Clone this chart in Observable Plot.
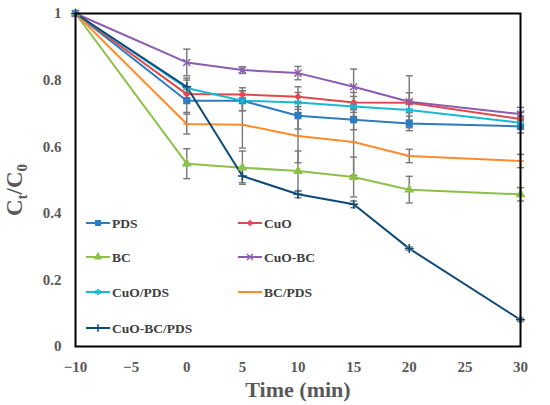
<!DOCTYPE html>
<html><head><meta charset="utf-8">
<script src="https://cdn.jsdelivr.net/npm/d3@7"></script>
<script src="https://cdn.jsdelivr.net/npm/@observablehq/plot@0.6"></script>
<style>
body{margin:0;background:#fff;}
#chart{position:relative;width:550px;height:405px;}
</style></head>
<body><div id="chart"></div>
<script>
const times = [-10, 0, 5, 10, 15, 20, 30];
const seriesNames = ["PDS", "CuO", "BC", "CuO-BC", "CuO/PDS", "BC/PDS", "CuO-BC/PDS"];
const PDS        = [1, 0.738, 0.738, 0.693, 0.681, 0.670, 0.661];
const CuO        = [1, 0.758, 0.757, 0.750, 0.733, 0.732, 0.683];
const BC         = [1, 0.549, 0.537, 0.527, 0.509, 0.471, 0.457];
const CuO_BC     = [1, 0.853, 0.830, 0.821, 0.780, 0.735, 0.698];
const CuO_PDS    = [1, 0.776, 0.738, 0.733, 0.721, 0.710, 0.672];
const BC_PDS     = [1, 0.668, 0.666, 0.632, 0.614, 0.572, 0.557];
const CuO_BC_PDS = [1, 0.780, 0.512, 0.457, 0.427, 0.294, 0.080];

const errPDS        = [0, 0.035, 0.030, 0.040, 0.030, 0.022, 0.020];
const errCuO        = [0, 0.020, 0.020, 0.030, 0.030, 0.030, 0.020];
const errBC         = [0, 0.045, 0.050, 0.060, 0.060, 0.040, 0.020];
const errCuO_BC     = [0, 0.040, 0.010, 0.020, 0.053, 0.078, 0.020];
const errCuO_PDS    = [0, 0.030, 0.030, 0.030, 0.030, 0.030, 0.020];
const errBC_PDS     = [0, 0.030, 0.070, 0.080, 0.100, 0.020, 0.020];
const errCuO_BC_PDS = [0, 0.020, 0.020, 0.010, 0.010, 0.005, 0.005];

const xTicks = [-10, -5, 0, 5, 10, 15, 20, 25, 30];
const yTicks = [0, 0.2, 0.4, 0.6, 0.8, 1];

const values = [PDS, CuO, BC, CuO_BC, CuO_PDS, BC_PDS, CuO_BC_PDS];
const errors = [errPDS, errCuO, errBC, errCuO_BC, errCuO_PDS, errBC_PDS, errCuO_BC_PDS];
const colors = ["#2b7cc1", "#e2474b", "#8cc04a", "#8d5bb0", "#18b8d2", "#ff8b2b", "#0e4a78"];

const dash = {draw(ctx, size){ const w = Math.sqrt(size / Math.PI); ctx.moveTo(-w, 0); ctx.lineTo(w, 0); }};
const markers = [
  {symbol: "square", r: 4, filled: true},
  {symbol: "diamond2", r: 3.4, filled: true},
  {symbol: "triangle", r: 3.7, filled: true},
  {symbol: "times", r: 3.3, filled: false},
  {symbol: "asterisk", r: 3.5, filled: false},
  {symbol: dash, r: 3.5, filled: false},
  {symbol: "plus", r: 3, filled: false}
];

const data = [];
seriesNames.forEach((s, i) => times.forEach((t, j) => data.push({series: s, t, v: values[i][j], e: errors[i][j]})));
const errData = data.filter(d => d.e > 0);

const marks = [];
seriesNames.forEach((s, i) => {
  marks.push(Plot.line(data.filter(d => d.series === s), {x: "t", y: "v", stroke: colors[i], strokeWidth: 2}));
});
marks.push(Plot.ruleX(errData, {x: "t", y1: d => d.v - d.e, y2: d => d.v + d.e, stroke: "#777", strokeWidth: 1.4}));
marks.push(Plot.dot(errData, {x: "t", y: d => d.v - d.e, symbol: dash, r: 3.5, stroke: "#777", strokeWidth: 1.4}));
marks.push(Plot.dot(errData, {x: "t", y: d => d.v + d.e, symbol: dash, r: 3.5, stroke: "#777", strokeWidth: 1.4}));
seriesNames.forEach((s, i) => {
  const m = markers[i];
  marks.push(Plot.dot(data.filter(d => d.series === s), m.filled
    ? {x: "t", y: "v", symbol: m.symbol, r: m.r, fill: colors[i], stroke: "none"}
    : {x: "t", y: "v", symbol: m.symbol, r: m.r, fill: "none", stroke: colors[i], strokeWidth: 1.5}));
});
marks.push(Plot.frame({stroke: "#000", strokeWidth: 2}));
marks.push(Plot.axisX({ticks: xTicks, tickSize: 0, tickPadding: 15, label: null, fontSize: 15, fontWeight: "bold", fill: "#595959"}));
marks.push(Plot.axisY({ticks: yTicks, tickSize: 0, tickPadding: 14, label: null, fontSize: 15, fontWeight: "bold", fill: "#595959",
  tickFormat: d => (d === 0 || d === 1) ? String(d) : d.toFixed(1)}));

const svgPlot = Plot.plot({
  width: 550, height: 405,
  marginLeft: 75, marginRight: 30, marginTop: 13, marginBottom: 59,
  x: {domain: [-10, 30]},
  y: {domain: [0, 1]},
  style: {fontFamily: "'Liberation Serif', 'Times New Roman', serif", background: "#fff", overflow: "visible"},
  marks
});
document.getElementById("chart").appendChild(svgPlot);

const svg = d3.select(svgPlot);
const ff = "'Liberation Serif', 'Times New Roman', serif";
// axis titles
svg.append("text").attr("x", 298).attr("y", 397).attr("text-anchor", "middle")
  .attr("font-family", ff).attr("font-weight", "bold").attr("font-size", 22).attr("fill", "#595959")
  .text("Time (min)");
const yl = svg.append("text").attr("transform", "translate(22,190) rotate(-90)").attr("text-anchor", "middle")
  .attr("font-family", ff).attr("font-weight", "bold").attr("font-size", 23).attr("fill", "#595959");
yl.append("tspan").text("C");
yl.append("tspan").attr("font-size", 15).attr("dy", 5).text("t");
yl.append("tspan").attr("dy", -5).text("/C");
yl.append("tspan").attr("font-size", 15).attr("dy", 5).text("0");

// legend
const legPos = [[86, 223], [238, 223], [86, 257], [238, 257], [86, 292], [238, 292], [86, 328]];
const leg = svg.append("g");
seriesNames.forEach((s, i) => {
  const [lx, ly] = legPos[i];
  const g = leg.append("g").attr("transform", `translate(${lx},${ly})`);
  g.append("line").attr("x1", 0).attr("x2", 24).attr("y1", 0).attr("y2", 0).attr("stroke", colors[i]).attr("stroke-width", 2);
  const m = markers[i];
  const symType = typeof m.symbol === "string"
    ? {square: d3.symbolSquare, diamond2: d3.symbolDiamond2, triangle: d3.symbolTriangle, times: d3.symbolTimes, asterisk: d3.symbolAsterisk, plus: d3.symbolPlus}[m.symbol]
    : m.symbol;
  const rr = m.r * 0.85;
  const p = g.append("path").attr("transform", "translate(12,0)").attr("d", d3.symbol(symType, Math.PI * rr * rr)());
  if (m.filled) p.attr("fill", colors[i]); else p.attr("fill", "none").attr("stroke", colors[i]).attr("stroke-width", 1.5);
  g.append("text").attr("x", 26).attr("y", 0).attr("dy", "0.35em").attr("text-anchor", "start")
    .attr("font-family", ff).attr("font-weight", "bold").attr("font-size", 13.5).attr("fill", "#404040").text(s);
});
</script></body></html>
